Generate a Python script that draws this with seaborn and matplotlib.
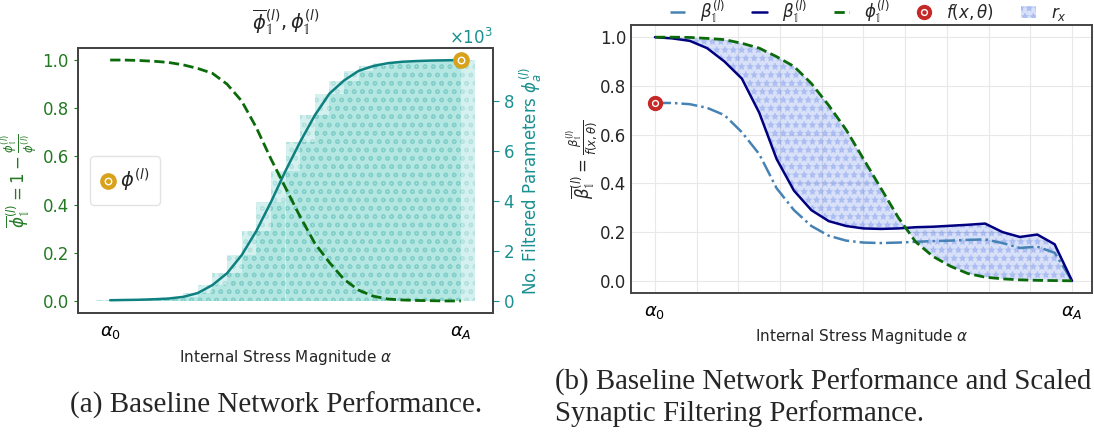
import numpy as np
import pandas as pd
import matplotlib
matplotlib.use("Agg")
import matplotlib.pyplot as plt
import seaborn as sns
from matplotlib.patches import Patch
from matplotlib.lines import Line2D
from matplotlib.legend_handler import HandlerTuple
from matplotlib.colors import to_rgba

# ---------------- data ----------------
stress_steps = list(range(25))
tick_labels = [r"$\alpha_0$"] + [""] * 9 + [r"$\alpha_A$"]

# panel (a): number of filtered parameters and normalised complement
phi_a_counts = [29, 39, 48, 68, 97, 164, 318, 637, 1110, 1834, 2800, 3957, 5211,
                6370, 7430, 8300, 8830, 9216, 9410, 9525, 9582, 9611, 9630, 9640, 9650]
phi_bar_a = [1.0, 1.0, 0.998, 0.995, 0.99, 0.98, 0.965, 0.945, 0.90, 0.83, 0.72, 0.59,
             0.47, 0.35, 0.24, 0.16, 0.09, 0.045, 0.02, 0.008, 0.004, 0.002, 0.001, 0.0, 0.0]
phi_total = 9650

# panel (b)
beta_scaled = [0.73, 0.73, 0.725, 0.71, 0.68, 0.61, 0.52, 0.38, 0.29, 0.225, 0.185, 0.165,
               0.157, 0.155, 0.157, 0.16, 0.163, 0.165, 0.168, 0.17, 0.155, 0.135, 0.14, 0.115, 0.0]
beta = [1.0, 0.995, 0.985, 0.955, 0.90, 0.83, 0.69, 0.50, 0.37, 0.29, 0.245, 0.225,
        0.215, 0.213, 0.215, 0.22, 0.222, 0.226, 0.23, 0.235, 0.20, 0.18, 0.19, 0.15, 0.0]
phi_b = [1.0, 1.0, 0.999, 0.995, 0.99, 0.975, 0.955, 0.92, 0.88, 0.81, 0.72, 0.62, 0.50,
         0.38, 0.26, 0.16, 0.10, 0.06, 0.03, 0.015, 0.008, 0.004, 0.002, 0.001, 0.0]
f_x_theta = 0.73

# ---------------- style ----------------
sns.set_style("white")
plt.rcParams["font.family"] = ["DejaVu Sans"]
plt.rcParams["mathtext.fontset"] = "dejavusans"
plt.rcParams["hatch.linewidth"] = 1.0

GREEN_T = "#237a23"
DGREEN = "#0b6b0b"
TEAL = "#0e8080"
TEAL_T = "#1a9090"
GOLD = "#d9a21b"
RED = "#c62828"
SPINE = "#444444"

fig = plt.figure(figsize=(10.94, 4.38), dpi=100)

df_a = pd.DataFrame({"step": stress_steps, "phi_a": phi_a_counts, "phi_bar": phi_bar_a})
df_b = pd.DataFrame({"step": stress_steps, "beta_scaled": beta_scaled,
                     "beta": beta, "phi": phi_b})


def ring_marker(ax, x, y, color, size=11):
    h1, = ax.plot([x], [y], "o", ms=size, mfc=color, mec=color, zorder=6, clip_on=False)
    h2, = ax.plot([x], [y], "o", ms=size * 0.42, mfc=color, mec="white", mew=1.0,
                  zorder=7, clip_on=False)
    return (h1, h2)


# ================= panel (a) =================
ax1 = fig.add_axes([78 / 1094, 1 - 313 / 438, 415 / 1094, 265 / 438])
ax2 = ax1.twinx()
ax1.set_zorder(ax2.get_zorder() + 1)
ax1.patch.set_visible(False)

ax2.bar(stress_steps, phi_a_counts, width=2.0, align="center",
        color=to_rgba("#3cbfb5", 0.21), edgecolor=to_rgba("#2fa8a0", 0.18),
        linewidth=0, hatch="oo", zorder=1)
sns.lineplot(data=df_a, x="step", y="phi_a", ax=ax2, color=TEAL, lw=1.8, zorder=3)
sns.lineplot(data=df_a, x="step", y="phi_bar", ax=ax1, color=DGREEN, lw=2.0,
             linestyle="--", zorder=4)
gm = ring_marker(ax1, stress_steps[-1], phi_a_counts[-1] / phi_total, GOLD)

ax1.set_xlim(-2.2, 26.2)
ax1.set_ylim(-0.05, 1.05)
ax2.set_ylim(-0.05 * phi_total, 1.05 * phi_total)
ax1.set_xticks(np.linspace(0, 24, 11))
ax1.set_xticklabels(tick_labels, fontsize=13)
ax1.set_yticks([0, 0.2, 0.4, 0.6, 0.8, 1.0])
ax1.set_yticklabels(["0.0", "0.2", "0.4", "0.6", "0.8", "1.0"])
ax1.tick_params(axis="y", colors=GREEN_T, labelsize=12, length=3)
ax1.tick_params(axis="x", colors=SPINE, labelcolor="black", length=4)
ax2.set_yticks([0, 2000, 4000, 6000, 8000])
ax2.ticklabel_format(axis="y", style="sci", scilimits=(3, 3), useMathText=True)
ax2.tick_params(axis="y", colors=TEAL_T, labelsize=12, length=4)
ax2.yaxis.get_offset_text().set_color(TEAL_T)
ax2.yaxis.get_offset_text().set_fontsize(12)

ax1.set_xlabel(r"Internal Stress Magnitude $\alpha$", fontsize=11, labelpad=5)
ax2.set_xlabel("")
ax1.set_ylabel(r"$\overline{\phi}^{(l)}_{\mathbb{1}} = 1 - \frac{\phi^{(l)}_{\mathbb{1}}}{\phi^{(l)}}$",
               fontsize=12, color=GREEN_T, labelpad=2)
ax2.set_ylabel(r"No. Filtered Parameters $\phi_a^{(l)}$", fontsize=12, color=TEAL_T, labelpad=2)
ax1.text(0.5, 1.095, r"$\overline{\phi}^{(l)}_{\mathbb{1}}, \phi^{(l)}_{\mathbb{1}}$",
         transform=ax1.transAxes, ha="center", va="center", fontsize=14)

for ax in (ax1, ax2):
    for s in ax.spines.values():
        s.set_color(SPINE)
        s.set_linewidth(1.4)

leg1 = ax1.legend([gm], [r"$\phi^{(l)}$"], handler_map={tuple: HandlerTuple(ndivide=1)},
                  loc="center left", bbox_to_anchor=(0.005, 0.5), fontsize=14,
                  handlelength=0.8, handletextpad=0.2, borderpad=0.55, frameon=True)
leg1.get_frame().set_edgecolor("#dddddd")

# ================= panel (b) =================
ax3 = fig.add_axes([631 / 1094, 1 - 293 / 438, 461 / 1094, 268 / 438])
ax3.grid(True, color="#e8e8e8", lw=0.8)
ax3.set_axisbelow(True)
FILL_FACE = to_rgba("royalblue", 0.2)
FILL_HATCH = to_rgba("royalblue", 0.2)
ax3.fill_between(stress_steps, beta, phi_b, facecolor=FILL_FACE,
                 edgecolor=FILL_HATCH, linewidth=0, hatch="**", zorder=1)
sns.lineplot(data=df_b, x="step", y="beta_scaled", ax=ax3, color="steelblue", lw=1.8,
             linestyle="-.", zorder=3)
sns.lineplot(data=df_b, x="step", y="beta", ax=ax3, color="navy", lw=1.8, zorder=3)
sns.lineplot(data=df_b, x="step", y="phi", ax=ax3, color=DGREEN, lw=2.0, linestyle="--", zorder=4)
rm = ring_marker(ax3, stress_steps[0], f_x_theta, RED, size=10)

ax3.set_xlim(-1.38, 25.15)
ax3.set_ylim(-0.05, 1.05)
ax3.set_xticks(np.linspace(0, 24, 11))
ax3.set_xticklabels(tick_labels, fontsize=13)
ax3.set_yticks([0, 0.2, 0.4, 0.6, 0.8, 1.0])
ax3.set_yticklabels(["0.0", "0.2", "0.4", "0.6", "0.8", "1.0"])
ax3.tick_params(axis="y", labelsize=12, length=0)
ax3.tick_params(axis="x", colors=SPINE, labelcolor="black", length=4)
ax3.set_xlabel(r"Internal Stress Magnitude $\alpha$", fontsize=11, labelpad=4)
ax3.set_ylabel(r"$\overline{\beta}^{(l)}_{\mathbb{1}} = \frac{\beta^{(l)}_{\mathbb{1}}}{f(x,\theta)}$",
               fontsize=12, labelpad=0)
for s in ax3.spines.values():
    s.set_color(SPINE)
    s.set_linewidth(1.4)

handles = [Line2D([], [], color="steelblue", lw=1.8, ls="-."),
           Line2D([], [], color="navy", lw=1.8),
           Line2D([], [], color=DGREEN, lw=2.0, ls="--"),
           (Line2D([], [], ls="", marker="o", ms=10, mfc=RED, mec=RED),
            Line2D([], [], ls="", marker="o", ms=4.2, mfc=RED, mec="white", mew=1.0)),
           Patch(facecolor=FILL_FACE, edgecolor=FILL_HATCH, linewidth=0, hatch="**")]
labels = [r"$\beta^{(l)}_{\mathbb{1}}$", r"$\beta^{(l)}_{\mathbb{1}}$",
          r"$\phi^{(l)}_{\mathbb{1}}$", r"$f(x,\theta)$", r"$r_x$"]
ax3.legend(handles, labels, handler_map={tuple: HandlerTuple(ndivide=1)},
           loc="center", bbox_to_anchor=(0.515, 1.05), ncol=5, frameon=False,
           fontsize=12, handlelength=0.9, columnspacing=1.6, handletextpad=0.9)

# ================= captions =================
fig.text(276 / 1094, 1 - 405 / 438, "(a) Baseline Network Performance.",
         family="Liberation Serif", fontsize=21, ha="center", va="center")
fig.text(555 / 1094, 1 - 382 / 438, "(b) Baseline Network Performance and Scaled",
         family="Liberation Serif", fontsize=20.8, ha="left", va="center")
fig.text(555 / 1094, 1 - 414 / 438, "Synaptic Filtering Performance.",
         family="Liberation Serif", fontsize=20.8, ha="left", va="center")

fig.savefig("out.png", dpi=100)
